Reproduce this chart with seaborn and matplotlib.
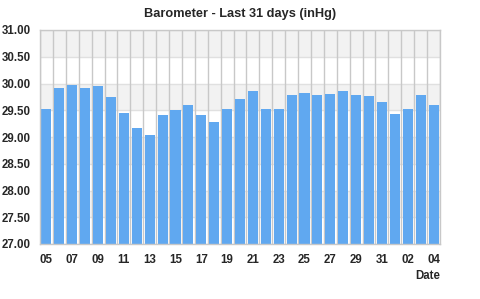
import matplotlib
matplotlib.use("Agg")
import matplotlib.pyplot as plt
import seaborn as sns
import pandas as pd
import numpy as np

days = ["05", "06", "07", "08", "09", "10", "11", "12", "13", "14", "15", "16",
        "17", "18", "19", "20", "21", "22", "23", "24", "25", "26", "27", "28",
        "29", "30", "31", "01", "02", "03", "04"]
pressure = [29.53, 29.92, 29.97, 29.92, 29.96, 29.75, 29.45, 29.17, 29.04, 29.41,
            29.51, 29.60, 29.41, 29.28, 29.53, 29.71, 29.86, 29.53, 29.53, 29.79,
            29.82, 29.79, 29.81, 29.86, 29.79, 29.77, 29.66, 29.43, 29.53, 29.79,
            29.60]
y_ticks = [27.0, 27.5, 28.0, 28.5, 29.0, 29.5, 30.0, 30.5, 31.0]

sns.set_style("white")
plt.rcParams['font.family'] = ['Liberation Sans', 'DejaVu Sans']

df = pd.DataFrame({"Date": [f"{i:02d}_{d}" for i, d in enumerate(days)], "Pressure": pressure})

fig = plt.figure(figsize=(4.8, 2.99), dpi=100)
ax = fig.add_axes([40/480, 55/299, 400/480, 214/299])

# alternating bands
for lo in [27.5, 28.5, 29.5, 30.5]:
    ax.axhspan(lo, lo + 0.5, color="#f2f2f2", zorder=0, lw=0)
for t in y_ticks:
    ax.axhline(t, color="#e0e0e0", lw=1, zorder=0.5)

sns.barplot(data=df, x="Date", y="Pressure", color="#60a8f0", saturation=1,
            width=0.78, ax=ax, zorder=2, edgecolor="none")

n = len(days)
for b in np.arange(n + 1) - 0.5:
    ax.axvline(b, color="#c8c8c8", lw=1, zorder=1)

ax.set_xlim(-0.5, n - 0.5)
ax.set_ylim(27.0, 31.0)
ax.set_yticks(y_ticks)
ax.set_yticklabels([f"{t:.2f}" for t in y_ticks], fontsize=8.3, fontweight="bold")
ax.set_xticks(range(0, n, 2))
ax.set_xticklabels(days[0::2], fontsize=8.3, fontweight="bold")
ax.tick_params(axis="x", length=0, pad=7)
ax.tick_params(axis="y", length=0, pad=6.5)
ax.set_xlabel("")
ax.set_ylabel("")
for s in ax.spines.values():
    s.set_color("#c8c8c8")
    s.set_linewidth(1)

fig.text(440/480, 1 - 276/299, "Date", ha="right", va="center", fontsize=8.3, fontweight="bold")
fig.text(0.5, 1 - 14/299, "Barometer - Last 31 days (inHg)", ha="center", va="center",
         fontsize=9.2, fontweight="bold")

fig.savefig("out.png", dpi=100)
